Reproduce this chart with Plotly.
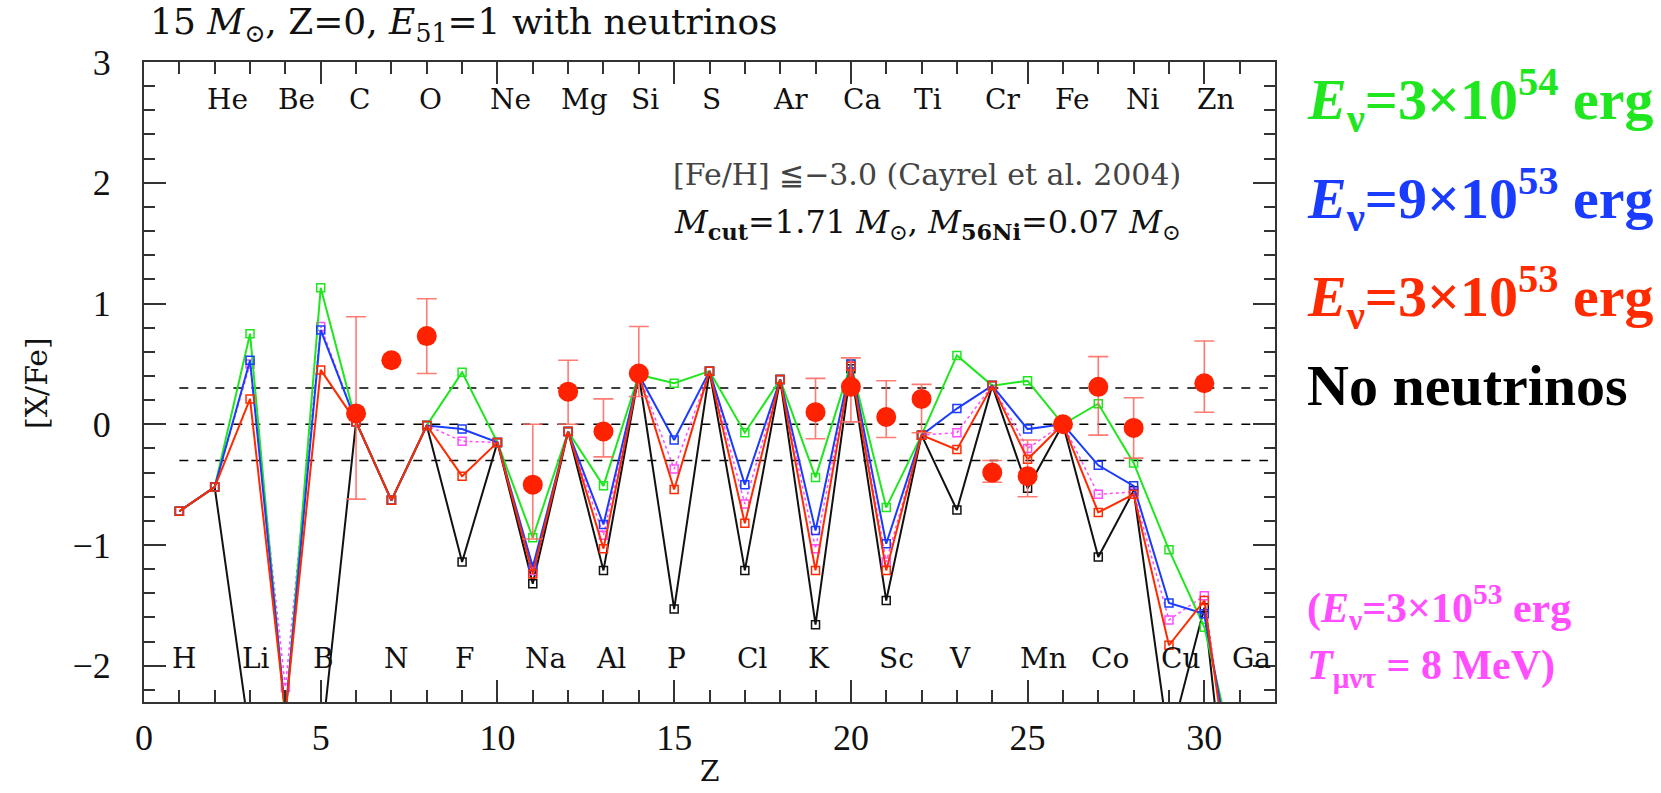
import plotly.graph_objects as go

# ---------------- data ----------------
Z = list(range(1, 32))
elem_top = ["He", "Be", "C", "O", "Ne", "Mg", "Si", "S", "Ar", "Ca", "Ti", "Cr", "Fe", "Ni", "Zn"]
elem_top_z = [2, 4, 6, 8, 10, 12, 14, 16, 18, 20, 22, 24, 26, 28, 30]
elem_bot = ["H", "Li", "B", "N", "F", "Na", "Al", "P", "Cl", "K", "Sc", "V", "Mn", "Co", "Cu", "Ga"]
elem_bot_z = [1, 3, 5, 7, 9, 11, 13, 15, 17, 19, 21, 23, 25, 27, 29, 31]

green = [-0.72, -0.52, 0.75, -2.45, 1.13, 0.02, -0.63, -0.01, 0.43, -0.15, -0.94, -0.06, -0.51, 0.41, 0.34,
         0.44, -0.07, 0.37, -0.44, 0.50, -0.69, -0.09, 0.57, 0.32, 0.36, 0.0, 0.17, -0.32, -1.04, -1.68, -2.95]
blue = [-0.72, -0.52, 0.53, -2.40, 0.78, 0.02, -0.63, -0.01, -0.04, -0.15, -1.18, -0.06, -0.83, 0.41, -0.13,
        0.44, -0.50, 0.37, -0.88, 0.50, -0.99, -0.09, 0.13, 0.32, -0.04, 0.0, -0.34, -0.51, -1.48, -1.57, -3.2]
magenta = [-0.72, -0.52, 0.50, -2.18, 0.81, 0.02, -0.63, -0.01, -0.14, -0.15, -1.21, -0.06, -0.92, 0.41, -0.37,
           0.44, -0.66, 0.37, -1.03, 0.49, -1.14, -0.09, -0.07, 0.32, -0.20, 0.0, -0.58, -0.56, -1.62, -1.42, -3.5]
red = [-0.72, -0.52, 0.21, -2.40, 0.45, 0.02, -0.63, -0.01, -0.43, -0.15, -1.24, -0.06, -1.03, 0.41, -0.54,
       0.44, -0.82, 0.37, -1.21, 0.48, -1.21, -0.09, -0.21, 0.32, -0.29, 0.0, -0.73, -0.58, -1.83, -1.46, -3.56]
black = [-0.72, -0.52, -2.6, -4.0, -2.7, 0.02, -0.63, -0.01, -1.14, -0.15, -1.32, -0.06, -1.21, 0.41, -1.53,
         0.44, -1.21, 0.37, -1.66, 0.46, -1.46, -0.09, -0.71, 0.32, -0.53, 0.0, -1.10, -0.55, -2.65, -1.52, -4.2]

obs_z = [6, 7, 8, 11, 12, 13, 14, 19, 20, 21, 22, 24, 25, 26, 27, 28, 30]
obs_val = [0.09, 0.53, 0.73, -0.50, 0.27, -0.06, 0.42, 0.10, 0.31, 0.06, 0.21, -0.40, -0.43, 0.0, 0.31, -0.03, 0.34]
obs_up = [0.80, 0.0, 0.31, 0.50, 0.26, 0.27, 0.39, 0.28, 0.24, 0.30, 0.12, 0.10, 0.30, 0.0, 0.25, 0.25, 0.35]
obs_dn = [0.71, 0.0, 0.31, 0.45, 0.27, 0.21, 0.19, 0.22, 0.29, 0.17, 0.28, 0.08, 0.17, 0.0, 0.40, 0.25, 0.24]

ref_levels = [0.3, 0.0, -0.3]

# ---------------- styling ----------------
C_GREEN = "#1fe61f"
C_BLUE = "#1a3cff"
C_RED = "#ff2a00"
C_MAG = "#ff4dff"
C_BLACK = "#111111"
SERIF = "DejaVu Serif"
TIMES = "Liberation Serif"

fig = go.Figure()


def model(y, color, name, dash="solid", width=2):
    fig.add_trace(go.Scatter(
        x=Z, y=y, mode="lines+markers", name=name,
        line=dict(color=color, width=width, dash=dash),
        marker=dict(symbol="square-open", size=8, color=color, line=dict(width=1.5, color=color)),
        showlegend=False))


model(black, C_BLACK, "No neutrinos")
model(magenta, C_MAG, "T=8 MeV", dash="dot", width=1.5)
model(green, C_GREEN, "3e54")
model(blue, C_BLUE, "9e53")
model(red, C_RED, "3e53")

fig.add_trace(go.Scatter(
    x=obs_z, y=obs_val, mode="markers", showlegend=False,
    marker=dict(symbol="circle", size=20, color="#ff2200"),
    error_y=dict(type="data", symmetric=False, array=obs_up, arrayminus=obs_dn,
                 color="rgba(255,100,90,0.85)", thickness=1.6, width=10)))

shapes = []
for lv in ref_levels:
    shapes.append(dict(type="line", xref="x", yref="y", x0=1, x1=31.8, y0=lv, y1=lv,
                       line=dict(color="black", width=1.5, dash="dash"), layer="below"))

L, R, T, B = 144, 386, 62, 91
W, H = 1661, 793
PW, PH = W - L - R, H - T - B


def px(xp):
    return (xp - L) / PW


def py(yp):
    return (H - B - yp) / PH


ann = []
for name, z in zip(elem_top, elem_top_z):
    ann.append(dict(x=z - 0.27, y=2.69, xref="x", yref="y", text=name, showarrow=False,
                    xanchor="left", yanchor="middle", font=dict(family=SERIF, size=28, color="#111")))
for name, z in zip(elem_bot, elem_bot_z):
    ann.append(dict(x=z - 0.27, y=-1.94, xref="x", yref="y", text=name, showarrow=False,
                    xanchor="left", yanchor="middle", font=dict(family=SERIF, size=28, color="#111")))

ann += [
    dict(x=px(148), y=py(25), xref="paper", yref="paper", xanchor="left", yanchor="middle", showarrow=False,
         text="15 <i>M</i><sub>⊙</sub>, Z=0, <i>E</i><sub>51</sub>=1 with neutrinos",
         font=dict(family=SERIF, size=36, color="#111")),
    dict(x=px(1183), y=py(175), xref="paper", yref="paper", xanchor="right", yanchor="middle", showarrow=False,
         text="[Fe/H] ≦−3.0 (Cayrel et al. 2004)",
         font=dict(family=SERIF, size=30, color="#444")),
    dict(x=px(1183), y=py(224), xref="paper", yref="paper", xanchor="right", yanchor="middle", showarrow=False,
         text="<i>M</i><sub><b>cut</b></sub>=1.71 <i>M</i><sub>⊙</sub>, <i>M</i><sub><b>56Ni</b></sub>=0.07 <i>M</i><sub>⊙</sub>",
         font=dict(family=SERIF, size=32, color="#111")),
    dict(x=px(36), y=py(383), xref="paper", yref="paper", textangle=-90, showarrow=False,
         xanchor="center", yanchor="middle", text="[X/Fe]",
         font=dict(family=SERIF, size=30, color="#111")),
    dict(x=px(709), y=py(771), xref="paper", yref="paper", showarrow=False,
         xanchor="center", yanchor="middle", text="Z",
         font=dict(family=SERIF, size=28, color="#111")),
]

legend_items = [
    ("<b><i>E</i><sub>ν</sub>=3×10<sup>54</sup> erg</b>", C_GREEN, 100, 58),
    ("<b><i>E</i><sub>ν</sub>=9×10<sup>53</sup> erg</b>", C_BLUE, 199, 58),
    ("<b><i>E</i><sub>ν</sub>=3×10<sup>53</sup> erg</b>", C_RED, 297, 58),
    ("<b>No neutrinos</b>", "#000000", 385, 58),
    ("<b>(<i>E</i><sub>ν</sub>=3×10<sup>53</sup> erg</b>", C_MAG, 607, 42),
    ("<b><i>T</i><sub>μντ</sub> = 8 MeV)</b>", C_MAG, 668, 42),
]
for txt, col, yc, sz in legend_items:
    ann.append(dict(x=px(1305), y=py(yc), xref="paper", yref="paper", xanchor="left", yanchor="middle",
                    showarrow=False, text=txt, font=dict(family=TIMES, size=sz, color=col)))

axis_common = dict(
    showline=True, linecolor="#333", linewidth=2, mirror="allticks",
    ticks="inside", tickcolor="#333", tickwidth=1.8,
    showgrid=False, zeroline=False,
    tickfont=dict(family=TIMES, size=36, color="#111"),
)

fig.update_layout(
    width=W, height=H,
    margin=dict(l=L, r=R, t=T, b=B, pad=0),
    paper_bgcolor="white", plot_bgcolor="white",
    shapes=shapes, annotations=ann,
    xaxis=dict(range=[0, 32], tickvals=[0, 5, 10, 15, 20, 25, 30], ticklen=22,
               minor=dict(dtick=1, ticklen=12, ticks="inside", tickcolor="#333", tickwidth=1.5),
               ticklabelstandoff=3, **axis_common),
    yaxis=dict(range=[-2.3, 3], tickvals=[-2, -1, 0, 1, 2, 3], ticktext=["−2", "−1", "0", "1", "2", "3"],
               ticklen=22,
               minor=dict(dtick=0.2, tick0=0, ticklen=11, ticks="inside", tickcolor="#333", tickwidth=1.5),
               ticklabelstandoff=24, **axis_common),
)

fig.write_html("out.html")
